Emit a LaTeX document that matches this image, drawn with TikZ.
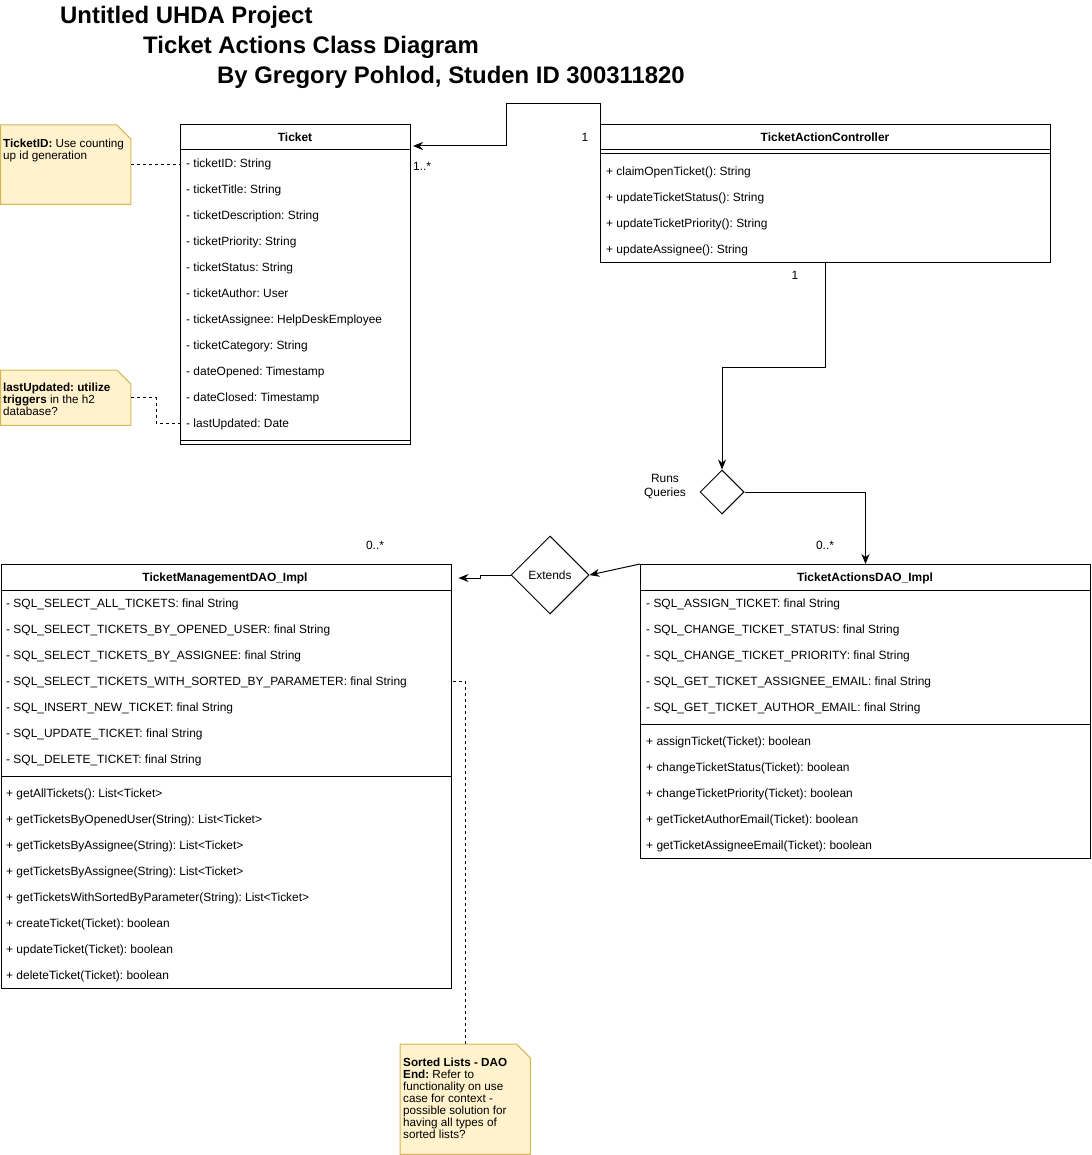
\documentclass[tikz,border=0pt]{standalone}
\usepackage{fontspec}
\setmainfont{Liberation Sans}
\usetikzlibrary{arrows.meta,shapes.geometric,calc}
\frenchspacing
\definecolor{notefill}{HTML}{FFF2CC}
\definecolor{noteline}{HTML}{D6B656}
\newcommand{\memfont}{\fontsize{11.95}{14}\selectfont}
\newcommand{\notefont}{\fontsize{11.7}{12}\selectfont}
% sticky note outline with a cut corner around an empty body node
\newcommand{\notefold}[1]{%
  \filldraw[fill=notefill, draw=noteline, line width=1pt]
    (#1.north west) -- ($(#1.north east)+(-14,0)$) -- ($(#1.north east)+(0,14)$)
    -- (#1.south east) -- (#1.south west) -- cycle;}

\begin{document}
\begin{tikzpicture}[x=1pt,y=-1pt,
  classbox/.style={draw, line width=1pt, fill=white, anchor=north west, inner sep=0pt},
  member/.style={anchor=base west, inner sep=0pt, font=\memfont},
  ctitle/.style={anchor=base, inner sep=0pt, font=\memfont\bfseries},
  mult/.style={inner sep=0pt, font=\memfont},
  conn/.style={line width=1pt},
  arr/.style={conn, -{Stealth[length=10pt,width=8pt]}},
  dashlink/.style={line width=0.8pt, dash pattern=on 3pt off 3pt},
  notebody/.style={anchor=north west, inner sep=0pt, minimum width=130pt},
  notetext/.style={anchor=north west, inner sep=0pt, align=left, font=\notefont},
  title/.style={anchor=base west, inner sep=0pt, font=\fontsize{23.9}{28}\selectfont\bfseries},
  gate/.style={diamond, draw, line width=1pt, inner sep=0pt, font=\memfont},
]
\useasboundingbox (0,0) rectangle (1091,1155);

% ---- titles
\node[title] (t1) at (60,23.5) {Untitled UHDA Project};
\node[title] (t2) at (143,53.5) {Ticket Actions Class Diagram};
\node[title] (t3) at (217,83.5) {By Gregory Pohlod, Studen ID 300311820};

% ---- Ticket
\node[classbox, minimum width=230pt, minimum height=320pt] (ticket) at (180,124) {};
\node[ctitle] (ticket-name) at (295,141.5) {Ticket};
\draw[conn] (180,150) -- (410,150);
\foreach \t [count=\i from 0] in {- ticketID: String, - ticketTitle: String,
  - ticketDescription: String, - ticketPriority: String, - ticketStatus: String,
  - ticketAuthor: User, - ticketAssignee: HelpDeskEmployee, - ticketCategory: String,
  - dateOpened: Timestamp, - dateClosed: Timestamp, - lastUpdated: Date}
  \node[member] (ticket-a\i) at (186,{167.5+26*\i}) {\t};
\draw[conn] (180,440) -- (410,440);

% ---- TicketActionController
\node[classbox, minimum width=450pt, minimum height=138pt] (ctrl) at (600,124) {};
\node[ctitle] (ctrl-name) at (825,141.5) {TicketActionController};
\draw[conn] (600,150) -- (1050,150);
\draw[conn] (600,154) -- (1050,154);
\foreach \t [count=\i from 0] in {+ claimOpenTicket(): String,
  + updateTicketStatus(): String, + updateTicketPriority(): String,
  + updateAssignee(): String}
  \node[member] (ctrl-m\i) at (606,{175.5+26*\i}) {\t};

% ---- TicketManagementDAO_Impl
\node[classbox, minimum width=450pt, minimum height=424pt] (mgmt) at (0.5,564) {};
\node[ctitle] (mgmt-name) at (225,581.5) {TicketManagementDAO\_Impl};
\draw[conn] (0.5,590) -- (450.5,590);
\foreach \t [count=\i from 0] in {- SQL\_SELECT\_ALL\_TICKETS: final String,
  - SQL\_SELECT\_TICKETS\_BY\_OPENED\_USER: final String,
  - SQL\_SELECT\_TICKETS\_BY\_ASSIGNEE: final String,
  - SQL\_SELECT\_TICKETS\_WITH\_SORTED\_BY\_PARAMETER: final String,
  - SQL\_INSERT\_NEW\_TICKET: final String,
  - SQL\_UPDATE\_TICKET: final String,
  - SQL\_DELETE\_TICKET: final String}
  \node[member] (mgmt-a\i) at (6,{607.5+26*\i}) {\t};
\draw[conn] (0.5,776) -- (450.5,776);
\foreach \t [count=\i from 0] in {+ getAllTickets(): List<Ticket>,
  + getTicketsByOpenedUser(String): List<Ticket>,
  + getTicketsByAssignee(String): List<Ticket>,
  + getTicketsByAssignee(String): List<Ticket>,
  + getTicketsWithSortedByParameter(String): List<Ticket>,
  + createTicket(Ticket): boolean,
  + updateTicket(Ticket): boolean,
  + deleteTicket(Ticket): boolean}
  \node[member] (mgmt-m\i) at (6,{797.5+26*\i}) {\t};

% ---- TicketActionsDAO_Impl
\node[classbox, minimum width=450pt, minimum height=294pt] (tad) at (640,564) {};
\node[ctitle] (tad-name) at (865,581.5) {TicketActionsDAO\_Impl};
\draw[conn] (640,590) -- (1090,590);
\foreach \t [count=\i from 0] in {- SQL\_ASSIGN\_TICKET: final String,
  - SQL\_CHANGE\_TICKET\_STATUS: final String,
  - SQL\_CHANGE\_TICKET\_PRIORITY: final String,
  - SQL\_GET\_TICKET\_ASSIGNEE\_EMAIL: final String,
  - SQL\_GET\_TICKET\_AUTHOR\_EMAIL: final String}
  \node[member] (tad-a\i) at (646,{607.5+26*\i}) {\t};
\draw[conn] (640,724) -- (1090,724);
\foreach \t [count=\i from 0] in {+ assignTicket(Ticket): boolean,
  + changeTicketStatus(Ticket): boolean,
  + changeTicketPriority(Ticket): boolean,
  + getTicketAuthorEmail(Ticket): boolean,
  + getTicketAssigneeEmail(Ticket): boolean}
  \node[member] (tad-m\i) at (646,{745.5+26*\i}) {\t};

% ---- decision diamonds
\node[gate, minimum width=44pt, minimum height=44pt] (rq) at (722,492) {};
\node[inner sep=0pt, align=center, font=\memfont] (rq-label) at (665,487) {Runs\\Queries};
\node[gate, minimum width=78pt, minimum height=78pt] (ext) at (550,575) {Extends};

% ---- associations
\draw[arr] (ctrl.north west) -- ++(0,-20) -| ($(ticket.north east)+(95,22)$)
  -- ($(ticket.north east)+(2,22)$);
\draw[arr] (ctrl.south) -- ++(0,104) -| (rq.north);
\draw[arr] (rq.east) -| (tad.north);
\draw[arr] (tad.north west) -- (ext.east);
\draw[arr] (ext.west) -- ++(-30,0) |- ($(mgmt.north east)+(7,14)$);

% ---- multiplicities
\node[mult] (m-ctrl-top) at (585,137) {1};
\node[mult, anchor=west] (m-ticket) at (413,166) {1..*};
\node[mult] (m-ctrl-bottom) at (795,275) {1};
\node[mult] (m-tad) at (825,545) {0..*};
\node[mult] (m-mgmt) at (375,545) {0..*};

% ---- notes
\node[notebody, minimum height=79pt] (n1) at (0.5,125) {};
\notefold{n1}
\node[notetext] (n1-text) at (3,138.5) {\textbf{TicketID:} Use counting\\up id generation};

\node[notebody, minimum height=55pt] (n2) at (0.5,370) {};
\notefold{n2}
\node[notetext] (n2-text) at (3,383) {\textbf{lastUpdated: utilize}\\\textbf{triggers} in the h2\\database?};

\node[notebody, minimum height=110pt] (n3) at (400,1044) {};
\notefold{n3}
\node[notetext] (n3-text) at (403,1057.5) {\textbf{Sorted Lists - DAO}\\\textbf{End:} Refer to\\functionality on use\\case for context -\\possible solution for\\having all types of\\sorted lists?};

% ---- note links
\draw[dashlink] (n1.east) -- (n1.east -| ticket.west);
\draw[dashlink] (n2.east) -- ++(25,0) |- ($(ticket.north west)+(0,299)$);
\draw[dashlink] (n3.north) |- ($(mgmt.north east)+(0,117)$);
\end{tikzpicture}
\end{document}
